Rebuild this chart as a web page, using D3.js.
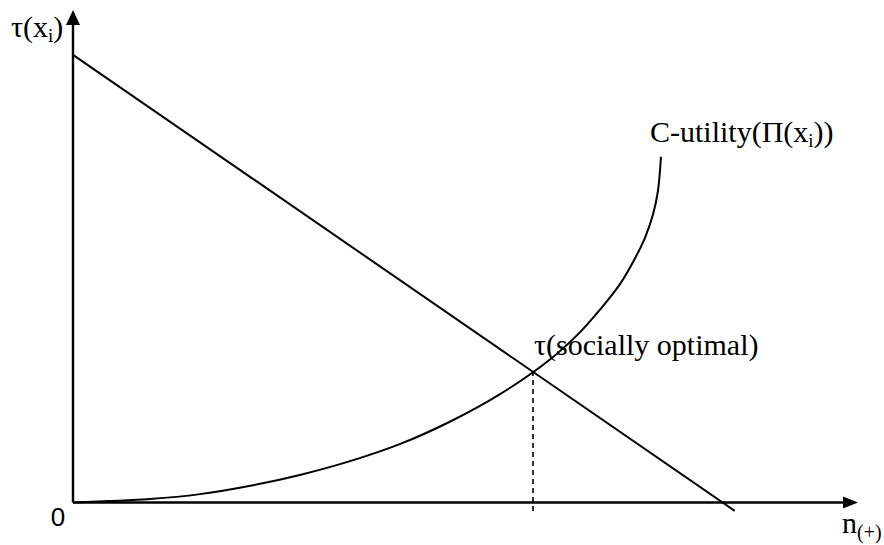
<!DOCTYPE html>
<html>
<head>
<meta charset="utf-8">
<script src="https://cdn.jsdelivr.net/npm/d3@7"></script>
<style>
  html, body { margin: 0; padding: 0; background: #fff; }
  svg { display: block; }
</style>
</head>
<body>
<script>
// ---- data (in abstract chart units, 0..100 on both axes) ----
const axisXMax = 100;           // x-axis arrow tip
const axisYMax = 100;           // y-axis arrow tip
// downward-sloping line tau(x_i)
const lineX = [0, 84.3];
const lineY = [90.9, -1.7];
// C-utility(Pi(x_i)) convex curve
const curveX = [0, 9.8, 16.2, 22.6, 28.9, 35.3, 41.7, 48.0, 54.4, 60.8, 64.6, 67.1, 69.7, 71.6, 72.9, 73.9, 74.5, 74.9];
const curveY = [0, 0.7, 1.7, 3.4, 5.6, 8.4, 11.9, 16.4, 22.0, 29.1, 34.6, 39.1, 44.4, 49.6, 53.9, 58.6, 63.1, 70.2];
// socially optimal point and dashed drop
const optX = [58.6];
const optY = [26.7];
const dropBottom = -1.9;

const W = 884, H = 545;
const SERIF = '"Liberation Serif", "Times New Roman", serif';
const SANS = '"Liberation Sans", Arial, sans-serif';
const svg = d3.select("body").append("svg").attr("width", W).attr("height", H);

const x = d3.scaleLinear().domain([0, 100]).range([73, 858]);
const y = d3.scaleLinear().domain([0, 100]).range([502.5, 10]);

// axes
svg.append("line").attr("x1", x(0)).attr("y1", y(0)).attr("x2", x(axisXMax) - 12).attr("y2", y(0))
  .attr("stroke", "#000").attr("stroke-width", 2.4);
svg.append("line").attr("x1", x(0)).attr("y1", y(0)).attr("x2", x(0)).attr("y2", y(axisYMax) + 12)
  .attr("stroke", "#000").attr("stroke-width", 2.4);
// arrowheads
const tipX = [x(axisXMax), y(0)];
svg.append("path").attr("d", `M${tipX[0]},${tipX[1]} L${tipX[0]-15},${tipX[1]-6} L${tipX[0]-15},${tipX[1]+6} Z`).attr("fill", "#000");
const tipY = [x(0), y(axisYMax)];
svg.append("path").attr("d", `M${tipY[0]},${tipY[1]} L${tipY[0]-7},${tipY[1]+15} L${tipY[0]+7},${tipY[1]+15} Z`).attr("fill", "#000");

// descending line
const lineData = lineX.map((d, i) => [d, lineY[i]]);
svg.append("path").datum(lineData)
  .attr("d", d3.line().x(d => x(d[0])).y(d => y(d[1])))
  .attr("fill", "none").attr("stroke", "#000").attr("stroke-width", 2);

// curve
const curveData = curveX.map((d, i) => [d, curveY[i]]);
svg.append("path").datum(curveData)
  .attr("d", d3.line().x(d => x(d[0])).y(d => y(d[1])).curve(d3.curveCatmullRom))
  .attr("fill", "none").attr("stroke", "#000").attr("stroke-width", 2);

// dashed drop
svg.append("line").attr("x1", x(optX[0])).attr("y1", y(optY[0])).attr("x2", x(optX[0])).attr("y2", y(dropBottom))
  .attr("stroke", "#000").attr("stroke-width", 1.6).attr("stroke-dasharray", "5,4");

// labels
const fs = 30;
function label(xp, yp) {
  return svg.append("text").attr("x", xp).attr("y", yp)
    .style("font-family", SERIF).style("font-size", fs + "px").attr("fill", "#000");
}
const t1 = label(11, 37);
t1.append("tspan").text("τ(x");
t1.append("tspan").style("font-size", Math.round(fs * 0.62) + "px").attr("dy", 5).text("i");
t1.append("tspan").attr("dy", -5).text(")");

const t2 = label(650, 142);
t2.append("tspan").text("C-utility(Π(x");
t2.append("tspan").style("font-size", Math.round(fs * 0.62) + "px").attr("dy", 5).text("i");
t2.append("tspan").attr("dy", -5).text("))");

label(534, 355).text("τ(socially optimal)");

const t4 = label(842, 533);
t4.append("tspan").text("n");
t4.append("tspan").style("font-size", Math.round(fs * 0.65) + "px").attr("dy", 6).text("(+)");

svg.append("text").attr("x", 58).attr("y", 526).style("font-family", SANS).style("font-size", "26px")
  .attr("text-anchor", "middle").attr("fill", "#000").text("0");
</script>
</body>
</html>
